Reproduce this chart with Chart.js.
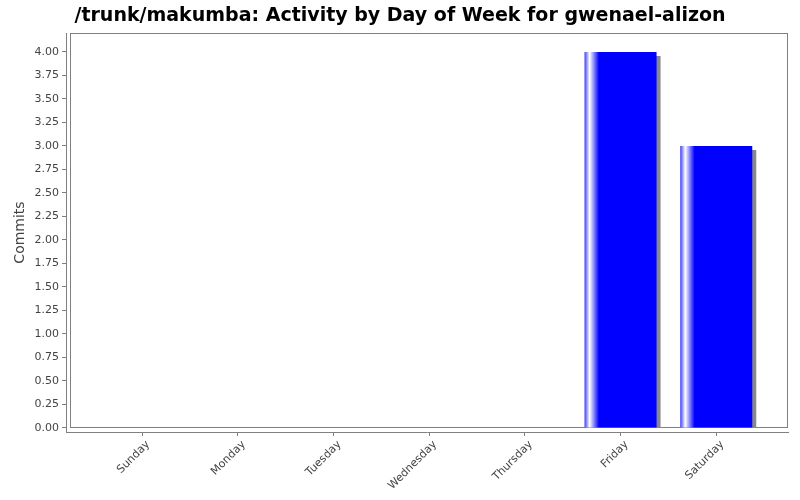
<!DOCTYPE html>
<html>
<head>
<meta charset="utf-8">
<script src="https://cdn.jsdelivr.net/npm/chart.js@4/dist/chart.umd.min.js"></script>
<style>
    html, body { margin: 0; padding: 0; background: #fff; }
    #wrap { width: 800px; height: 500px; }
</style>
</head>
<body>
<div id="wrap"><canvas id="DayOfWeekChart"></canvas></div>
<script>
const days = ['Sunday', 'Monday', 'Tuesday', 'Wednesday', 'Thursday', 'Friday', 'Saturday'];
const commits = [0, 0, 0, 0, 0, 4, 3];
const yTickValues = [0, 0.25, 0.5, 0.75, 1, 1.25, 1.5, 1.75, 2, 2.25, 2.5, 2.75, 3, 3.25, 3.5, 3.75, 4];

const axisGray = '#808080';
const labelGray = '#444444';

// JFreeChart-like horizontal highlight across each bar
const barGradient = (context) => {
    const chart = context.chart;
    const xScale = chart.scales.x;
    if (!xScale || !context.parsed)
        return '#0000ff';

    const center = xScale.getPixelForValue(context.parsed.x);
    const half = (xScale.getPixelForValue(1) - xScale.getPixelForValue(0)) * 0.753 / 2;
    if (!isFinite(center) || !isFinite(half) || half <= 0)
        return '#0000ff';

    const g = chart.ctx.createLinearGradient(center - half, 0, center + half, 0);
    g.addColorStop(0, '#3a3aff');
    g.addColorStop(0.07, '#ffffff');
    g.addColorStop(0.2, '#0000ff');
    g.addColorStop(1, '#0000ff');
    return g;
};

// plot outline, sitting a little inside the axes
const plotFrame = {
    id: 'plotFrame',
    beforeDatasetsDraw(chart) {
        const { ctx, chartArea } = chart;
        ctx.save();
        ctx.strokeStyle = axisGray;
        ctx.lineWidth = 1;
        ctx.strokeRect(chartArea.left + 4.5, chartArea.top + 0.5,
            chartArea.right - chartArea.left - 5, chartArea.bottom - chartArea.top - 5);
        ctx.restore();
    }
};

// gray drop shadow on the bars, kept inside the plot frame
const barShadow = {
    id: 'barShadow',
    beforeDatasetDraw(chart) {
        const { ctx, chartArea } = chart;
        ctx.save();
        ctx.beginPath();
        ctx.rect(chartArea.left + 5, chartArea.top + 1,
            chartArea.right - chartArea.left - 6, chartArea.bottom - chartArea.top - 5);
        ctx.clip();
        ctx.shadowColor = '#888888';
        ctx.shadowOffsetX = 4;
        ctx.shadowOffsetY = 4;
        ctx.shadowBlur = 0;
    },
    afterDatasetDraw(chart) {
        chart.ctx.restore();
    }
};

const canvas = document.getElementById('DayOfWeekChart').getContext('2d');

new Chart(canvas, {
    type: 'bar',
    data: {
        datasets: [
            {
                label: 'Commits',
                data: days.map((d, i) => ({ x: i, y: commits[i] })),
                backgroundColor: barGradient,
                borderWidth: 0,
                barPercentage: 0.753,
                categoryPercentage: 1
            }
        ]
    },
    plugins: [plotFrame, barShadow],
    options: {
        responsive: true,
        maintainAspectRatio: false,
        animation: false,
        layout: {
            padding: { left: 12, right: 12, top: 0, bottom: 0 }
        },
        plugins: {
            legend: { display: false },
            tooltip: { enabled: false },
            title: {
                display: true,
                text: '/trunk/makumba: Activity by Day of Week for gwenael-alizon',
                color: '#000',
                padding: { top: 4, bottom: 5 },
                font: {
                    family: 'DejaVu Sans',
                    weight: 'bold',
                    size: 19,
                    lineHeight: 24 / 19
                }
            }
        },
        scales: {
            x: {
                type: 'linear',
                offset: false,
                min: -0.795,
                max: 6.75,
                afterBuildTicks: (scale) => {
                    scale.ticks = days.map((d, i) => ({ value: i }));
                },
                afterFit: (scale) => {
                    scale.height = 68;
                },
                grid: {
                    offset: false,
                    drawOnChartArea: false,
                    drawTicks: true,
                    tickLength: 4,
                    color: axisGray
                },
                border: { display: true, color: axisGray },
                ticks: {
                    color: labelGray,
                    minRotation: 45,
                    maxRotation: 45,
                    padding: 2,
                    labelOffset: 6,
                    font: { family: 'DejaVu Sans', size: 11 },
                    callback: (value) => days[value]
                }
            },
            y: {
                min: -0.0426,
                max: 4.202,
                afterBuildTicks: (scale) => {
                    scale.ticks = yTickValues.map(v => ({ value: v }));
                },
                afterFit: (scale) => {
                    scale.width = 54;
                },
                title: {
                    display: true,
                    text: 'Commits',
                    color: labelGray,
                    padding: { top: 0, bottom: 0 },
                    font: { family: 'DejaVu Sans', size: 14 }
                },
                grid: {
                    drawOnChartArea: false,
                    drawTicks: true,
                    tickLength: 4,
                    color: axisGray
                },
                border: { display: true, color: axisGray },
                ticks: {
                    color: labelGray,
                    padding: 3,
                    font: { family: 'DejaVu Sans', size: 11 },
                    callback: (value) => Number(value).toFixed(2)
                }
            }
        }
    }
});
</script>
</body>
</html>
